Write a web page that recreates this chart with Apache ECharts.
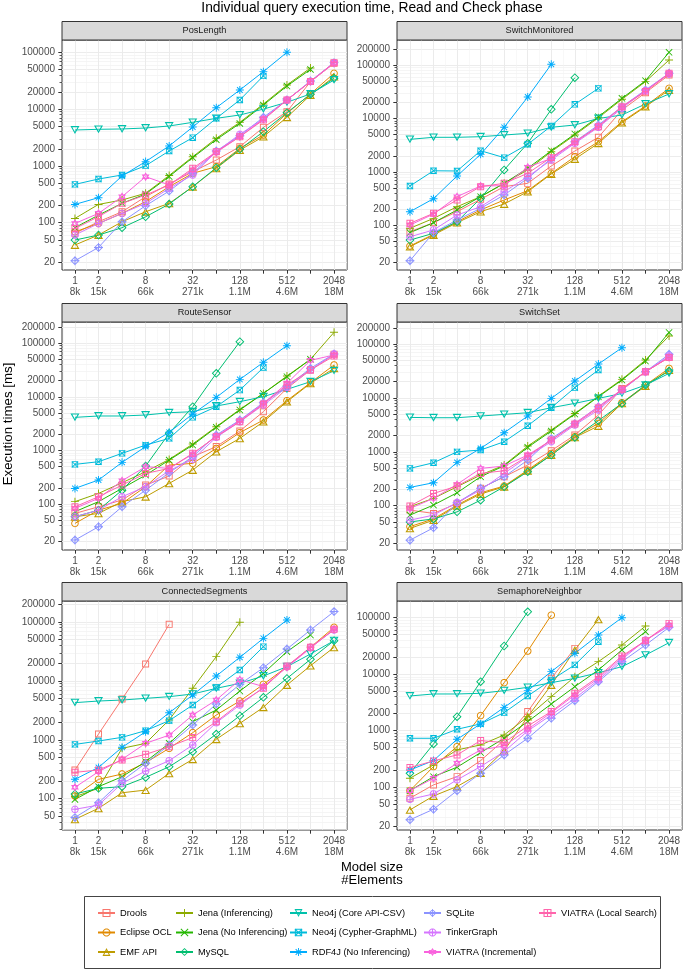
<!DOCTYPE html>
<html><head><meta charset="utf-8">
<script src="https://cdn.jsdelivr.net/npm/echarts@6/dist/echarts.min.js"></script>
<style>html,body{margin:0;padding:0;background:#fff}#c{width:685px;height:970px}</style>
</head><body><div id="c"></div>
<script>
// ---------- DATA ----------
const modelSizes = [1,2,4,8,16,32,64,128,256,512,1024,2048];
const xTickValues = [1,2,8,32,128,512,2048];
const xTickElements = ['8k','15k','66k','271k','1.1M','4.6M','18M'];
const yTickValues = [20,50,100,200,500,1000,2000,5000,10000,20000,50000,100000,200000];
const seriesNames = ['Drools','Eclipse OCL','EMF API','Jena (Inferencing)','Jena (No Inferencing)','MySQL','Neo4j (Core API-CSV)','Neo4j (Cypher-GraphML)','RDF4J (No Inferencing)','SQLite','TinkerGraph','VIATRA (Incremental)','VIATRA (Local Search)'];
const panelNames = ['PosLength','SwitchMonitored','RouteSensor','SwitchSet','ConnectedSegments','SemaphoreNeighbor'];

// rows follow seriesNames order; values in ms for model sizes 1..2048
const PosLength = [
  [65,104,156,287,480,791,1270,2180,4770,9010,30500,64100],
  [69,97,146,235,431,740,970,2040,3500,8430,18500,42700],
  [40.5,60.7,104,156,219,430,906,1900,3270,7170,17700,37300],
  [119,210,251,330,680,1450,3060,5850,12300,26600,53000],
  [82,136,219,320,650,1400,2900,5600,11800,25500,50000],
  [49.5,60.7,81.7,127,213,431,931,1960,4010,8670,18200,34900],
  [4290,4410,4470,4650,5050,5850,6880,7880,10000,13200,18500,32600],
  [473,588,692,1010,1830,3140,6880,14500,38400],
  [210,276,664,1190,2245,4840,10600,21700,45700,100000],
  [21.4,36.7,104,199,361,740,1830,3410,7170,14500,31300,65800],
  [60.7,97,146,219,403,692,1780,3600,6700,14500,30500,65800],
  [97,146,287,646,462,847,1730,3270,6700,14500,30500,64100],
  [79,128,219,307,462,906,1780,3270,6440,14500,30500,65800]
];
const SwitchMonitored = [
  [76,112,180,307,530,611,1290,2460,4440,14400,30400,65000],
  [41,68,117,194,298,446,940,1930,3680,8710,17100,36600],
  [40,66,112,180,251,427,914,1740,3430,8340,16600,34100],
  [88,135,223,344,611,1090,2390,4900,10300,22800,48900,124000],
  [73,112,194,344,611,1170,2490,5120,10800,23800,50900,173000],
  [53,71,117,320,1090,3430,14800,58000],
  [4070,4440,4440,4560,4900,5270,6830,7550,10000,11600,18700,28700],
  [545,1050,1040,2490,1850,3280,7220,18400,36600],
  [180,315,838,2130,6830,25200,103000],
  [21.8,73,126,208,370,759,1790,3680,7550,16600,34100,70000],
  [61,82,156,223,427,815,1670,3430,6830,15500,33100,67900],
  [101,163,344,545,552,1220,1790,3530,7220,16600,33100,70000],
  [109,168,298,530,611,940,1870,3680,7030,16600,31800,70000]
];
const RouteSensor = [
  [67,89,119,226,333,766,1180,2310,5290,14400,31700,62200],
  [43.6,77,103,211,535,574,1090,2150,3700,8490,18400,39400],
  [58,67,111,137,243,431,948,1680,3440,8130,17900,34100],
  [111,158,250,401,682,1320,2780,5850,11600,24500,50200,160000],
  [72,111,196,347,662,1260,2700,5690,11600,23800,50200],
  [58,77,182,512,2090,6560,27500,107000],
  [4150,4400,4400,4590,5070,5290,6760,8130,10100,13800,19200,30800],
  [550,617,883,1260,1680,4150,6560,13400,35100],
  [196,281,600,1180,2180,4790,9790,21200,44100,90300],
  [21.3,37.7,89,182,385,766,1940,3700,7800,15500,34100,63100],
  [58,77,137,211,419,682,1760,3440,7050,15100,31700,63100],
  [83,128,273,498,463,857,1860,3600,7570,17900,48000,60500],
  [89,137,226,373,463,883,1810,3440,7360,16700,31700,57900]
];
const SwitchSet = [
  [83,72,110,210,345,568,1050,2050,4810,15000,30600,56500],
  [41,57,103,174,232,459,935,1910,3370,8150,17300,35300],
  [38,54,99,165,225,446,871,1850,3010,7920,16600,32900],
  [96,137,225,371,568,1280,2540,5160,10800,22100,50500,141000],
  [67,103,174,345,552,1210,2430,5020,10500,21400,48300,164000],
  [50,57,77,127,225,427,871,1850,3780,7920,17300,31500],
  [4350,4290,4290,4610,4950,5310,6580,7920,9800,12100,17300,28500],
  [493,628,1000,1080,1540,3050,6580,15500,32900],
  [219,267,637,1160,2260,4610,9800,20600,42400,85300],
  [23,39,114,210,345,703,1770,3370,6870,14000,30600,64300],
  [54,67,115,195,398,811,1540,3140,5960,14000,30600,59800],
  [89,137,249,493,545,871,1650,3370,6870,14400,30600,56500],
  [99,169,232,398,446,834,1650,3280,6400,14400,30600,56500]
];
const ConnectedSegments = [
  [307,1250,4920,19300,91200],
  [111,213,262,408,716,1320,2630,4550,8730,17400,37100,81100],
  [44.6,68.6,126,140,269,466,1020,1900,3560,8510,18100,37100],
  [108,150,716,869,2170,7470,25800,98700],
  [97,160,236,425,869,2030,3200,6730,13400,31300,60100],
  [120,150,160,230,349,628,1250,2560,5250,11000,23200,48200],
  [4270,4550,4730,5050,5390,5980,7470,9080,12100,17400,28600,48200],
  [835,953,1100,1430,2110,3890,7760,15300,38100],
  [213,340,745,1370,2880,5750,12100,25100,52700,108000],
  [48,85,202,398,815,1780,4050,8730,16700,34700,73100,150000],
  [66,78,182,295,442,815,1950,3890,7760,17400,37100,73100],
  [156,287,466,869,1200,2630,4730,10500,8000,17000,36000,75000],
  [280,307,453,566,764,1090,2030,4160,7470,17900,37100,75000]
];
const SemaphoreNeighbor = [
  [64,110,154,296,687,2180,8450,28600],
  [87,232,523,1850,7080,25700,111000],
  [39.7,70,103,177,445,1770,6440,26800,93300],
  [144,248,457,560,841,1770,4010,9040,16700,32800,71100],
  [87,154,226,410,735,1450,2970,6030,11900,26800,56500],
  [177,583,1770,7380,31600,127000],
  [4120,4470,4470,4590,5120,5860,7080,8450,10600,13600,21800,36100],
  [735,735,1060,1320,2090,4120,7890,14600,37600],
  [202,296,706,1320,2590,5120,11100,23400,49300,100000],
  [26.5,40.8,87,177,373,735,1660,3400,7380,16700,32800,67500],
  [61,76,135,232,427,991,1900,3740,7890,18300,40300,71100],
  [87,144,265,457,538,1060,2090,4290,8450,19900,39200,74100],
  [223,292,373,668,617,1210,2180,4590,9040,21000,39200,79300]
];
const panelValues = [PosLength, SwitchMonitored, RouteSensor, SwitchSet, ConnectedSegments, SemaphoreNeighbor];

// ---------- LAYOUT / STYLE ----------
const FONT = '"Liberation Sans", Arial, Helvetica, sans-serif';
const seriesColors = ['#F8766D','#E18A00','#BE9C00','#8CAB00','#24B700','#00BE70','#00C1AB','#00BBDA','#00ACFC','#8B93FF','#D575FE','#F962DD','#FF65AC'];
const layout = [
  {left:62, top:40, height:230, ymin:14.7, ymax:164800},
  {left:397, top:40, height:230, ymin:14.6, ymax:294000},
  {left:62, top:322, height:228, ymin:13.9, ymax:249500},
  {left:397, top:322, height:228, ymin:15.1, ymax:256000},
  {left:62, top:601, height:229, ymin:29.4, ymax:227000},
  {left:397, top:601, height:229, ymin:17.5, ymax:197500}
];
const PW = 285, STRIP = 18.5;

// ---------- SYMBOLS (ggplot shapes 0..12) ----------
function area(p){let s=0;for(let i=0;i<p.length;i++){const a=p[i],b=p[(i+1)%p.length];s+=a[0]*b[1]-b[0]*a[1];}return s;}
function sub(p,neg){if((area(p)<0)!==neg)p=p.slice().reverse();return 'M'+p.map(q=>q[0].toFixed(3)+' '+q[1].toFixed(3)).join(' L')+' Z';}
function reg(n,r,st){const p=[];for(let i=0;i<n;i++){const a=st+2*Math.PI*i/n;p.push([r*Math.cos(a),r*Math.sin(a)]);}return p;}
function ring(o,i){return sub(o,true)+' '+sub(i,false);}
function bar(x1,y1,x2,y2,t){const dx=x2-x1,dy=y2-y1,L=Math.hypot(dx,dy),nx=-dy/L*t/2,ny=dx/L*t/2;return sub([[x1+nx,y1+ny],[x2+nx,y2+ny],[x2-nx,y2-ny],[x1-nx,y1-ny]],true);}
const sq=t=>ring([[-10,-10],[10,-10],[10,10],[-10,10]],[[-10+t,-10+t],[10-t,-10+t],[10-t,10-t],[-10+t,10-t]]);
const circ=t=>ring(reg(32,10,0),reg(32,10-t,0));
const triU=t=>ring(reg(3,10,-Math.PI/2),reg(3,10-2*t,-Math.PI/2));
const triD=t=>ring(reg(3,10,Math.PI/2),reg(3,10-2*t,Math.PI/2));
const dia=t=>ring(reg(4,10,-Math.PI/2),reg(4,10-1.414*t,-Math.PI/2));
const plus=t=>bar(0,-10,0,10,t)+' '+bar(-10,0,10,0,t);
const cross=(t,a)=>bar(-a,-a,a,a,t)+' '+bar(-a,a,a,-a,t);
const shapeDefs = [
  [7, t=>sq(t)], [7.5, t=>circ(t)], [9, t=>triU(t)], [8, t=>plus(t)], [7, t=>cross(t,10)],
  [9, t=>dia(t)], [9, t=>triD(t)], [7, t=>sq(t)+' '+cross(t,10)], [8, t=>plus(t)+' '+cross(t,7.07)],
  [9, t=>dia(t)+' '+plus(t)], [7.5, t=>circ(t)+' '+plus(t)], [9, t=>triU(t)+' '+triD(t)], [7, t=>sq(t)+' '+plus(t)]
];
const STROKE = 0.95;
const symbols = shapeDefs.map(([s,f]) => ({size:s, path:'path://'+f(STROKE*20/s)}));

// ---------- OPTION ----------
const grids=[], xAxes=[], yAxes=[], series=[], graphics=[];
const xmin = Math.pow(2,-0.55), xmax = Math.pow(2,11.55);
const xMinor = []; for (let k=-1;k<=11;k++){const v=Math.pow(2,k+0.5); if(v>xmin&&v<xmax) xMinor.push(v);}
function minorY(min,max){const r=[];for(let e=Math.floor(Math.log10(min));e<=Math.ceil(Math.log10(max));e++){for(let m=1;m<=9;m++){const v=m*Math.pow(10,e);if(v>=min&&v<=max)r.push(v);}}return r;}

panelNames.forEach((name,g)=>{
  const L = layout[g];
  grids.push({left:L.left, top:L.top, width:PW, height:L.height, show:true, borderColor:'#333333', borderWidth:1, backgroundColor:'#ffffff', containLabel:false, outerBoundsMode:'none'});
  xAxes.push({type:'log', logBase:2, gridIndex:g, min:xmin, max:xmax,
    axisLine:{show:false},
    axisTick:{show:true, length:3.7, lineStyle:{color:'#333333', width:1}, customValues:modelSizes},
    axisLabel:{customValues:xTickValues, fontSize:10, color:'#4D4D4D', fontFamily:FONT, lineHeight:11, margin:5.5,
      formatter:v=>{const i=xTickValues.findIndex(t=>Math.abs(t-v)/t<1e-6); return i<0?'':xTickValues[i]+'\n'+xTickElements[i];}},
    splitLine:{show:true, lineStyle:{color:'#EBEBEB', width:1}}});
  xAxes.push({type:'log', logBase:2, gridIndex:g, min:xmin, max:xmax,
    axisLine:{show:false}, axisTick:{show:false, customValues:xMinor}, axisLabel:{show:false, customValues:xMinor},
    splitLine:{show:true, lineStyle:{color:'#F3F3F3', width:0.6}}});
  const yt = yTickValues.filter(v=>v>=L.ymin&&v<=L.ymax);
  yAxes.push({type:'log', logBase:10, gridIndex:g, min:L.ymin, max:L.ymax,
    axisLine:{show:false},
    axisTick:{show:true, length:3.7, lineStyle:{color:'#333333', width:1}, customValues:yt},
    axisLabel:{customValues:yt, fontSize:10, color:'#4D4D4D', fontFamily:FONT, margin:7, formatter:v=>String(Math.round(v))},
    splitLine:{show:true, lineStyle:{color:'#E9E9E9', width:1}}});
  const ym = minorY(L.ymin, L.ymax);
  yAxes.push({type:'log', logBase:10, gridIndex:g, min:L.ymin, max:L.ymax, position:'left',
    axisLine:{show:false}, axisLabel:{show:false, customValues:ym},
    axisTick:{show:true, length:2.5, lineStyle:{color:'#333333', width:0.8}, customValues:ym},
    splitLine:{show:true, lineStyle:{color:'#EEEEEE', width:0.6}}});
  // strip
  graphics.push({type:'rect', shape:{x:L.left, y:L.top-STRIP, width:PW, height:STRIP}, style:{fill:'#D9D9D9', stroke:'#333333', lineWidth:1}, z:10});
  graphics.push({type:'text', x:L.left+PW/2, y:L.top-STRIP/2, z:11, style:{text:name, fill:'#1A1A1A', fontSize:9.2, fontFamily:FONT, align:'center', verticalAlign:'middle', textAlign:'center', textVerticalAlign:'middle'}});
  panelValues[g].forEach((row,s)=>{
    series.push({type:'line', name:seriesNames[s], xAxisIndex:2*g, yAxisIndex:2*g,
      data: row.map((v,i)=>[modelSizes[i], v]),
      symbol: symbols[s].path, symbolSize: symbols[s].size, symbolKeepAspect:true, showAllSymbol:true,
      lineStyle:{width:1, color:seriesColors[s]}, itemStyle:{color:seriesColors[s], borderWidth:0},
      emphasis:{disabled:true}, animation:false});
  });
});

// titles
graphics.push({type:'text', x:372, y:8.5, style:{text:'Individual query execution time, Read and Check phase', fill:'#000', fontSize:13.8, fontFamily:FONT, align:'center', verticalAlign:'middle', textAlign:'center', textVerticalAlign:'middle'}});
graphics.push({type:'text', x:372, y:867, style:{text:'Model size', fill:'#000', fontSize:13, fontFamily:FONT, align:'center', verticalAlign:'middle', textAlign:'center', textVerticalAlign:'middle'}});
graphics.push({type:'text', x:372, y:880.7, style:{text:'#Elements', fill:'#000', fontSize:13, fontFamily:FONT, align:'center', verticalAlign:'middle', textAlign:'center', textVerticalAlign:'middle'}});
graphics.push({type:'text', x:8, y:424, rotation:Math.PI/2, style:{text:'Execution times [ms]', fill:'#000', fontSize:13.3, fontFamily:FONT, align:'center', verticalAlign:'middle', textAlign:'center', textVerticalAlign:'middle'}});
// legend box
graphics.push({type:'rect', shape:{x:84.5, y:896.5, width:576, height:72}, style:{fill:'none', stroke:'#444444', lineWidth:1}});

const legendCols = [[0,1,2],[3,4,5],[6,7,8],[9,10,11],[12]];
const legendX = [97,175,289,423,538];
const legends = legendCols.map((col,c)=>({
  orient:'vertical', left:legendX[c], top:908.5, padding:0, itemWidth:17, itemHeight:10, itemGap:10.5,
  itemStyle:{borderWidth:0},
  textStyle:{fontSize:9.3, color:'#000', fontFamily:FONT},
  data: col.map(i=>seriesNames[i])
}));

const chart = echarts.init(document.getElementById('c'), null, {renderer:'canvas'});
chart.setOption({
  animation:false,
  backgroundColor:'#ffffff',
  textStyle:{fontFamily:FONT},
  grid:grids, xAxis:xAxes, yAxis:yAxes, series:series, legend:legends, graphic:graphics
});
</script></body></html>
